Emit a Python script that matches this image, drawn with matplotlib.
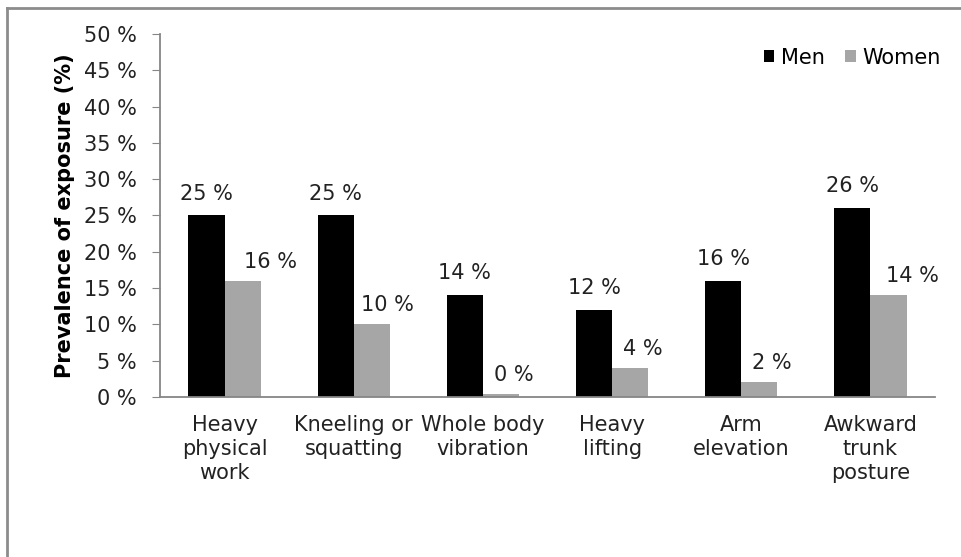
import matplotlib.pyplot as plt
import numpy as np
from matplotlib.lines import Line2D

# Data
categories = ['Heavy\nphysical\nwork', 'Kneeling or\nsquatting', 'Whole body\nvibration',
              'Heavy\nlifting', 'Arm\nelevation', 'Awkward\ntrunk\nposture']
men = [25, 25, 14, 12, 16, 26]
women = [16, 10, 0.4, 4, 2, 14]
yticks = [0, 5, 10, 15, 20, 25, 30, 35, 40, 45, 50]

# women's labels sit a bit right of their bars in the original (points)
women_label_dx = [20, 11, 9, 9, 9, 17]

plt.rcParams['font.family'] = 'DejaVu Sans'
fs = 15
txt = '#222222'

fig = plt.figure(figsize=(9.61, 5.57), dpi=100)
ax = fig.add_axes([0.1665, 0.2873, 0.8065, 0.6517])

x = np.arange(len(categories))
w = 0.28
b1 = ax.bar(x - w / 2, men, w, color='black', label='Men')
b2 = ax.bar(x + w / 2, women, w, color='#a6a6a6', label='Women')

# value labels above bars
for r in b1:
    ax.annotate('{:.0f} %'.format(r.get_height()),
                (r.get_x() + r.get_width() / 2, r.get_height()),
                xytext=(0, 11.5), textcoords='offset points',
                ha='center', va='baseline', fontsize=fs, color=txt)
for r, dx in zip(b2, women_label_dx):
    ax.annotate('{:.0f} %'.format(r.get_height()),
                (r.get_x() + r.get_width() / 2, r.get_height()),
                xytext=(dx, 9.5), textcoords='offset points',
                ha='center', va='baseline', fontsize=fs, color=txt)

ax.set_xlim(-0.5, len(categories) - 0.5)
ax.set_ylim(0, 50)
ax.set_yticks(yticks)
ax.set_yticklabels(['{} %'.format(v) for v in yticks], fontsize=fs, color=txt)
ax.set_xticks(x)
ax.set_xticklabels(categories, fontsize=fs, color=txt, linespacing=1.25)
ax.tick_params(axis='x', length=0, pad=13)
ax.tick_params(axis='y', length=5.8, color='#868686', pad=11)

for s in ['top', 'right']:
    ax.spines[s].set_visible(False)
for s in ['left', 'bottom']:
    ax.spines[s].set_color('#868686')
    ax.spines[s].set_linewidth(1.3)

ax.set_ylabel('Prevalence of exposure (%)', fontsize=fs, fontweight='bold',
              labelpad=6, color='black')

fig.legend(loc='upper right', bbox_to_anchor=(0.998, 0.948), ncol=2, frameon=False,
           fontsize=fs, handlelength=0.5, handleheight=0.5, handletextpad=0.3,
           columnspacing=1.0)

# chart border (only top and left visible in the reference)
fig.add_artist(Line2D([0.0075, 1.0], [0.985, 0.985], transform=fig.transFigure,
                      color='#8c8c8c', linewidth=2))
fig.add_artist(Line2D([0.0075, 0.0075], [0.0, 0.985], transform=fig.transFigure,
                      color='#8c8c8c', linewidth=2))

fig.savefig('out.png', dpi=100)
